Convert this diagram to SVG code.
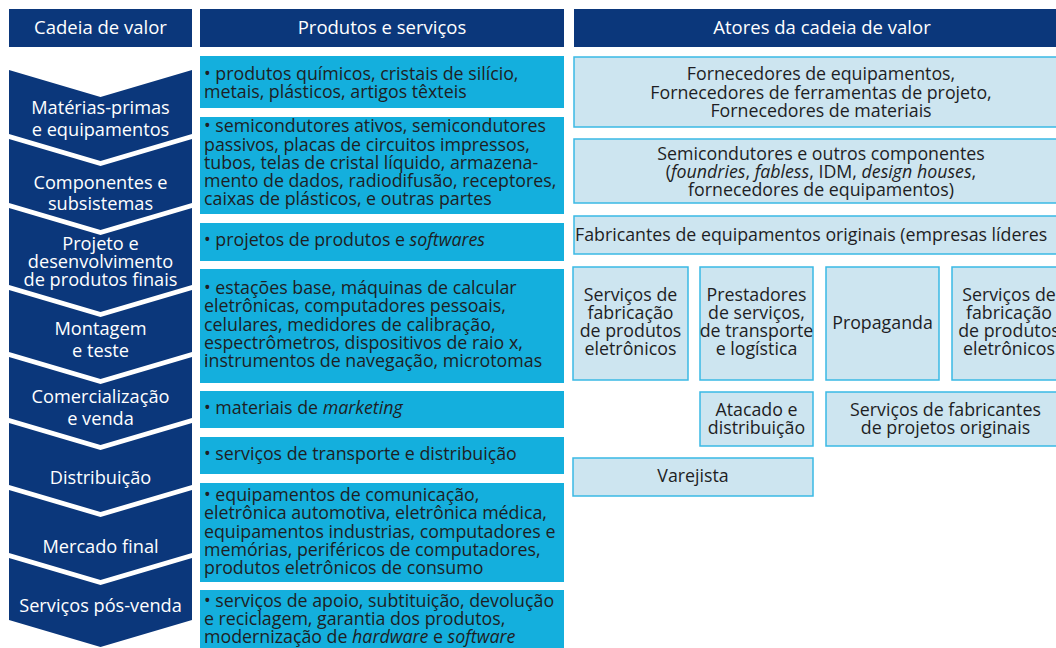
<svg xmlns="http://www.w3.org/2000/svg" width="1056" height="648" viewBox="0 0 1056 648">
<style>
text{font-family:"Open Sans","Liberation Sans",sans-serif;}
.hdr{fill:#0b377b;}
.hdrt{fill:#ffffff;font-size:18.5px;text-anchor:middle;}
.chev{fill:#0b377b;}
.chevt{fill:#ffffff;font-size:18.2px;text-anchor:middle;}
.prod{fill:#14afdd;}
.prodt{fill:#1e1e24;font-size:17.8px;}
.act{fill:#cde5f0;stroke:#3ab9e5;stroke-width:1.5;}
.actt{fill:#1e1e24;font-size:17.8px;text-anchor:middle;}
.it{font-style:italic;}
</style>
<rect width="1056" height="648" fill="#ffffff"/>

<g id="headers">
<g id="h-cadeia"><rect class="hdr" x="9" y="9" width="183" height="38"/><text class="hdrt" x="100.5" y="34">Cadeia de valor</text></g>
<g id="h-produtos"><rect class="hdr" x="200" y="9" width="364" height="38"/><text class="hdrt" x="382" y="34">Produtos e serviços</text></g>
<g id="h-atores"><rect class="hdr" x="574" y="9" width="490" height="38"/><text class="hdrt" x="822" y="34">Atores da cadeia de valor</text></g>
</g>

<g id="chain">
<g id="c1"><polygon class="chev" points="9,70 100.5,97 192,70 192,134 100.5,161 9,134"/><text class="chevt" x="100.5" y="114">Matérias-primas</text><text class="chevt" x="100.5" y="136">e equipamentos</text></g>
<g id="c2"><polygon class="chev" points="9,139 100.5,166 192,139 192,203 100.5,230 9,203"/><text class="chevt" x="100.5" y="189">Componentes e</text><text class="chevt" x="100.5" y="210">subsistemas</text></g>
<g id="c3"><polygon class="chev" points="9,208 100.5,235 192,208 192,285 100.5,312 9,285"/><text class="chevt" x="100.5" y="250">Projeto e</text><text class="chevt" x="100.5" y="268">desenvolvimento</text><text class="chevt" x="100.5" y="286">de produtos finais</text></g>
<g id="c4"><polygon class="chev" points="9,290 100.5,317 192,290 192,352 100.5,379 9,352"/><text class="chevt" x="100.5" y="335">Montagem</text><text class="chevt" x="100.5" y="357">e teste</text></g>
<g id="c5"><polygon class="chev" points="9,357 100.5,384 192,357 192,418 100.5,445 9,418"/><text class="chevt" x="100.5" y="403">Comercialização</text><text class="chevt" x="100.5" y="425">e venda</text></g>
<g id="c6"><polygon class="chev" points="9,423 100.5,450 192,423 192,485 100.5,512 9,485"/><text class="chevt" x="100.5" y="484">Distribuição</text></g>
<g id="c7"><polygon class="chev" points="9,490 100.5,517 192,490 192,553 100.5,580 9,553"/><text class="chevt" x="100.5" y="553">Mercado final</text></g>
<g id="c8"><polygon class="chev" points="9,558 100.5,585 192,558 192,620 100.5,647 9,620"/><text class="chevt" x="100.5" y="612">Serviços pós-venda</text></g>
</g>

<g id="products">
<g id="p1"><rect class="prod" x="200" y="56" width="364" height="52"/>
<text class="prodt" x="204" y="80">• produtos químicos, cristais de silício,</text>
<text class="prodt" x="204" y="98">metais, plásticos, artigos têxteis</text></g>
<g id="p2"><rect class="prod" x="200" y="117" width="364" height="97"/>
<text class="prodt" x="204" y="132">• semicondutores ativos, semicondutores</text>
<text class="prodt" x="204" y="151">passivos, placas de circuitos impressos,</text>
<text class="prodt" x="204" y="169">tubos, telas de cristal líquido, armazena-</text>
<text class="prodt" x="204" y="187">mento de dados, radiodifusão, receptores,</text>
<text class="prodt" x="204" y="205">caixas de plásticos, e outras partes</text></g>
<g id="p3"><rect class="prod" x="200" y="223" width="364" height="38"/>
<text class="prodt" x="204" y="246">• projetos de produtos e <tspan class="it">softwares</tspan></text></g>
<g id="p4"><rect class="prod" x="200" y="269" width="364" height="114"/>
<text class="prodt" x="204" y="294">• estações base, máquinas de calcular</text>
<text class="prodt" x="204" y="312">eletrônicas, computadores pessoais,</text>
<text class="prodt" x="204" y="331">celulares, medidores de calibração,</text>
<text class="prodt" x="204" y="349">espectrômetros, dispositivos de raio x,</text>
<text class="prodt" x="204" y="367">instrumentos de navegação, microtomas</text></g>
<g id="p5"><rect class="prod" x="200" y="391" width="364" height="37"/>
<text class="prodt" x="204" y="414">• materiais de <tspan class="it">marketing</tspan></text></g>
<g id="p6"><rect class="prod" x="200" y="437" width="364" height="37"/>
<text class="prodt" x="204" y="460">• serviços de transporte e distribuição</text></g>
<g id="p7"><rect class="prod" x="200" y="483" width="364" height="99"/>
<text class="prodt" x="204" y="501">• equipamentos de comunicação,</text>
<text class="prodt" x="204" y="519">eletrônica automotiva, eletrônica médica,</text>
<text class="prodt" x="204" y="538">equipamentos industrias, computadores e</text>
<text class="prodt" x="204" y="556">memórias, periféricos de computadores,</text>
<text class="prodt" x="204" y="574">produtos eletrônicos de consumo</text></g>
<g id="p8"><rect class="prod" x="200" y="590" width="364" height="60"/>
<text class="prodt" x="204" y="607">• serviços de apoio, subtituição, devolução</text>
<text class="prodt" x="204" y="625">e reciclagem, garantia dos produtos,</text>
<text class="prodt" x="204" y="643">modernização de <tspan class="it">hardware</tspan> e <tspan class="it">software</tspan></text></g>
</g>

<g id="actors">
<g id="a1"><rect class="act" x="574" y="57" width="494" height="70"/>
<text class="actt" x="821" y="80">Fornecedores de equipamentos,</text>
<text class="actt" x="821" y="99">Fornecedores de ferramentas de projeto,</text>
<text class="actt" x="821" y="117">Fornecedores de materiais</text></g>
<g id="a2"><rect class="act" x="574" y="139" width="494" height="64"/>
<text class="actt" x="821" y="160">Semicondutores e outros componentes</text>
<text class="actt" x="821" y="178">(<tspan class="it">foundries</tspan>, <tspan class="it">fabless</tspan>, IDM, <tspan class="it">design houses</tspan>,</text>
<text class="actt" x="821" y="196">fornecedores de equipamentos)</text></g>
<g id="a3"><rect class="act" x="574" y="216" width="494" height="38"/>
<text class="actt" x="575" y="241" style="text-anchor:start">Fabricantes de equipamentos originais (empresas líderes</text></g>
<g id="a4"><rect class="act" x="573" y="267" width="115" height="113"/>
<text class="actt" x="630.5" y="301">Serviços de</text>
<text class="actt" x="630.5" y="319">fabricação</text>
<text class="actt" x="630.5" y="337">de produtos</text>
<text class="actt" x="630.5" y="355">eletrônicos</text></g>
<g id="a5"><rect class="act" x="700" y="267" width="113" height="113"/>
<text class="actt" x="756.5" y="301">Prestadores</text>
<text class="actt" x="756.5" y="319">de serviços,</text>
<text class="actt" x="756.5" y="337">de transporte</text>
<text class="actt" x="756.5" y="355">e logística</text></g>
<g id="a6"><rect class="act" x="826" y="267" width="113" height="113"/>
<text class="actt" x="882.5" y="329">Propaganda</text></g>
<g id="a7"><rect class="act" x="952" y="267" width="115" height="113"/>
<text class="actt" x="1009" y="301">Serviços de</text>
<text class="actt" x="1009" y="319">fabricação</text>
<text class="actt" x="1009" y="337">de produtos</text>
<text class="actt" x="1009" y="355">eletrônicos</text></g>
<g id="a8"><rect class="act" x="700" y="392" width="113" height="54"/>
<text class="actt" x="756.5" y="416">Atacado e</text>
<text class="actt" x="756.5" y="434">distribuição</text></g>
<g id="a9"><rect class="act" x="826" y="392" width="240" height="54"/>
<text class="actt" x="945.5" y="416">Serviços de fabricantes</text>
<text class="actt" x="945.5" y="434">de projetos originais</text></g>
<g id="a10"><rect class="act" x="573" y="458" width="240" height="38"/>
<text class="actt" x="693" y="482">Varejista</text></g>
</g>

<g id="connectors"></g>
</svg>
